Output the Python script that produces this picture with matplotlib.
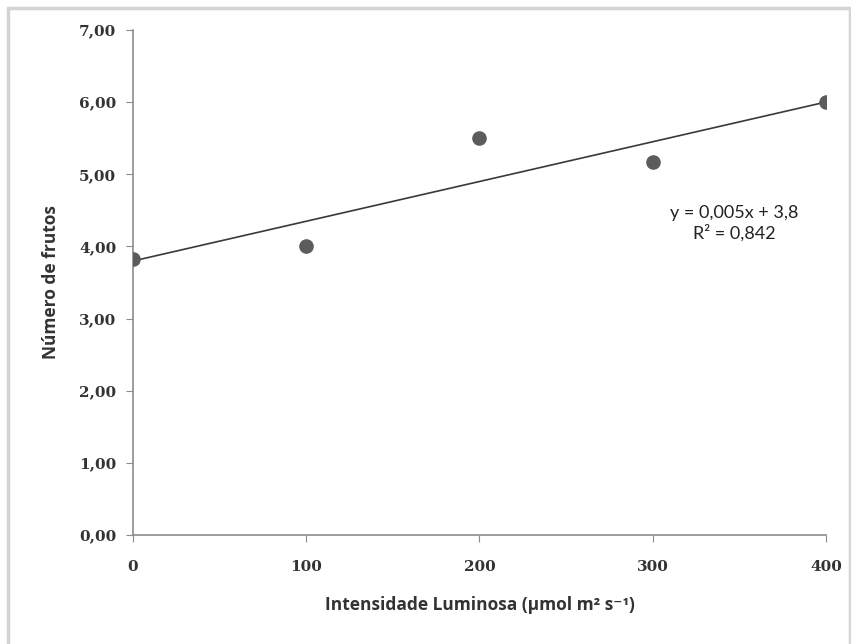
import numpy as np
import matplotlib.pyplot as plt
from matplotlib.patches import Rectangle

# Dados
intensidade = [0, 100, 200, 300, 400]
frutos = [3.83, 4.00, 5.50, 5.17, 6.00]
y_ticks = [0, 1, 2, 3, 4, 5, 6, 7]
x_ticks = [0, 100, 200, 300, 400]
equacao = "y = 0,005x + 3,8\nR² = 0,842"

fig = plt.figure(figsize=(8.51, 6.44), dpi=100)
ax = fig.add_axes([0.1563, 0.1693, 0.8143, 0.7841])

# borda da area do grafico
fig.patches.append(Rectangle((8/851, -0.01), 842/851, 1 - 8/644 + 0.01,
                             transform=fig.transFigure, fill=False,
                             edgecolor='#d4d4d4', lw=2.5))

# linha de tendencia (cuadrados minimos)
a, b = np.polyfit(intensidade, frutos, 1)
xi = np.array([0, 400])
ax.plot(xi, a*xi + b, color='#3a3a3a', lw=1.2, zorder=2)
ax.plot(intensidade, frutos, 'o', color='#5c5c5c', ms=9.5, zorder=3)

ax.text(347, 4.32, equacao, ha='center', va='center', fontsize=13,
        family='Lato', color='#222222', linespacing=1.2)

ax.set_xlim(0, 400)
ax.set_ylim(0, 7)
ax.set_xticks(x_ticks)
ax.set_yticks(y_ticks)
ax.set_yticklabels([f"{v:.2f}".replace('.', ',') for v in y_ticks])
for lab in ax.get_xticklabels() + ax.get_yticklabels():
    lab.set_family('DejaVu Serif')
    lab.set_fontweight('bold')
    lab.set_fontsize(11)
    lab.set_color('#333333')

for s in ['top', 'right']:
    ax.spines[s].set_visible(False)
for s in ['left', 'bottom']:
    ax.spines[s].set_color('#8c8c8c')
    ax.spines[s].set_linewidth(1.2)
ax.tick_params(direction='out', length=5, color='#8c8c8c', pad=7)
ax.tick_params(axis='x', pad=13)

ax.set_xlabel("Intensidade Luminosa (µmol m² s⁻¹)", fontsize=12.5,
              fontweight='bold', family=['Open Sans', 'DejaVu Sans'],
              color='#333333', labelpad=16)
ax.set_ylabel("Número de frutos", fontsize=12.5, fontweight='bold',
              family=['Open Sans', 'DejaVu Sans'], color='#333333',
              labelpad=14)

fig.savefig('out.png', dpi=100)
